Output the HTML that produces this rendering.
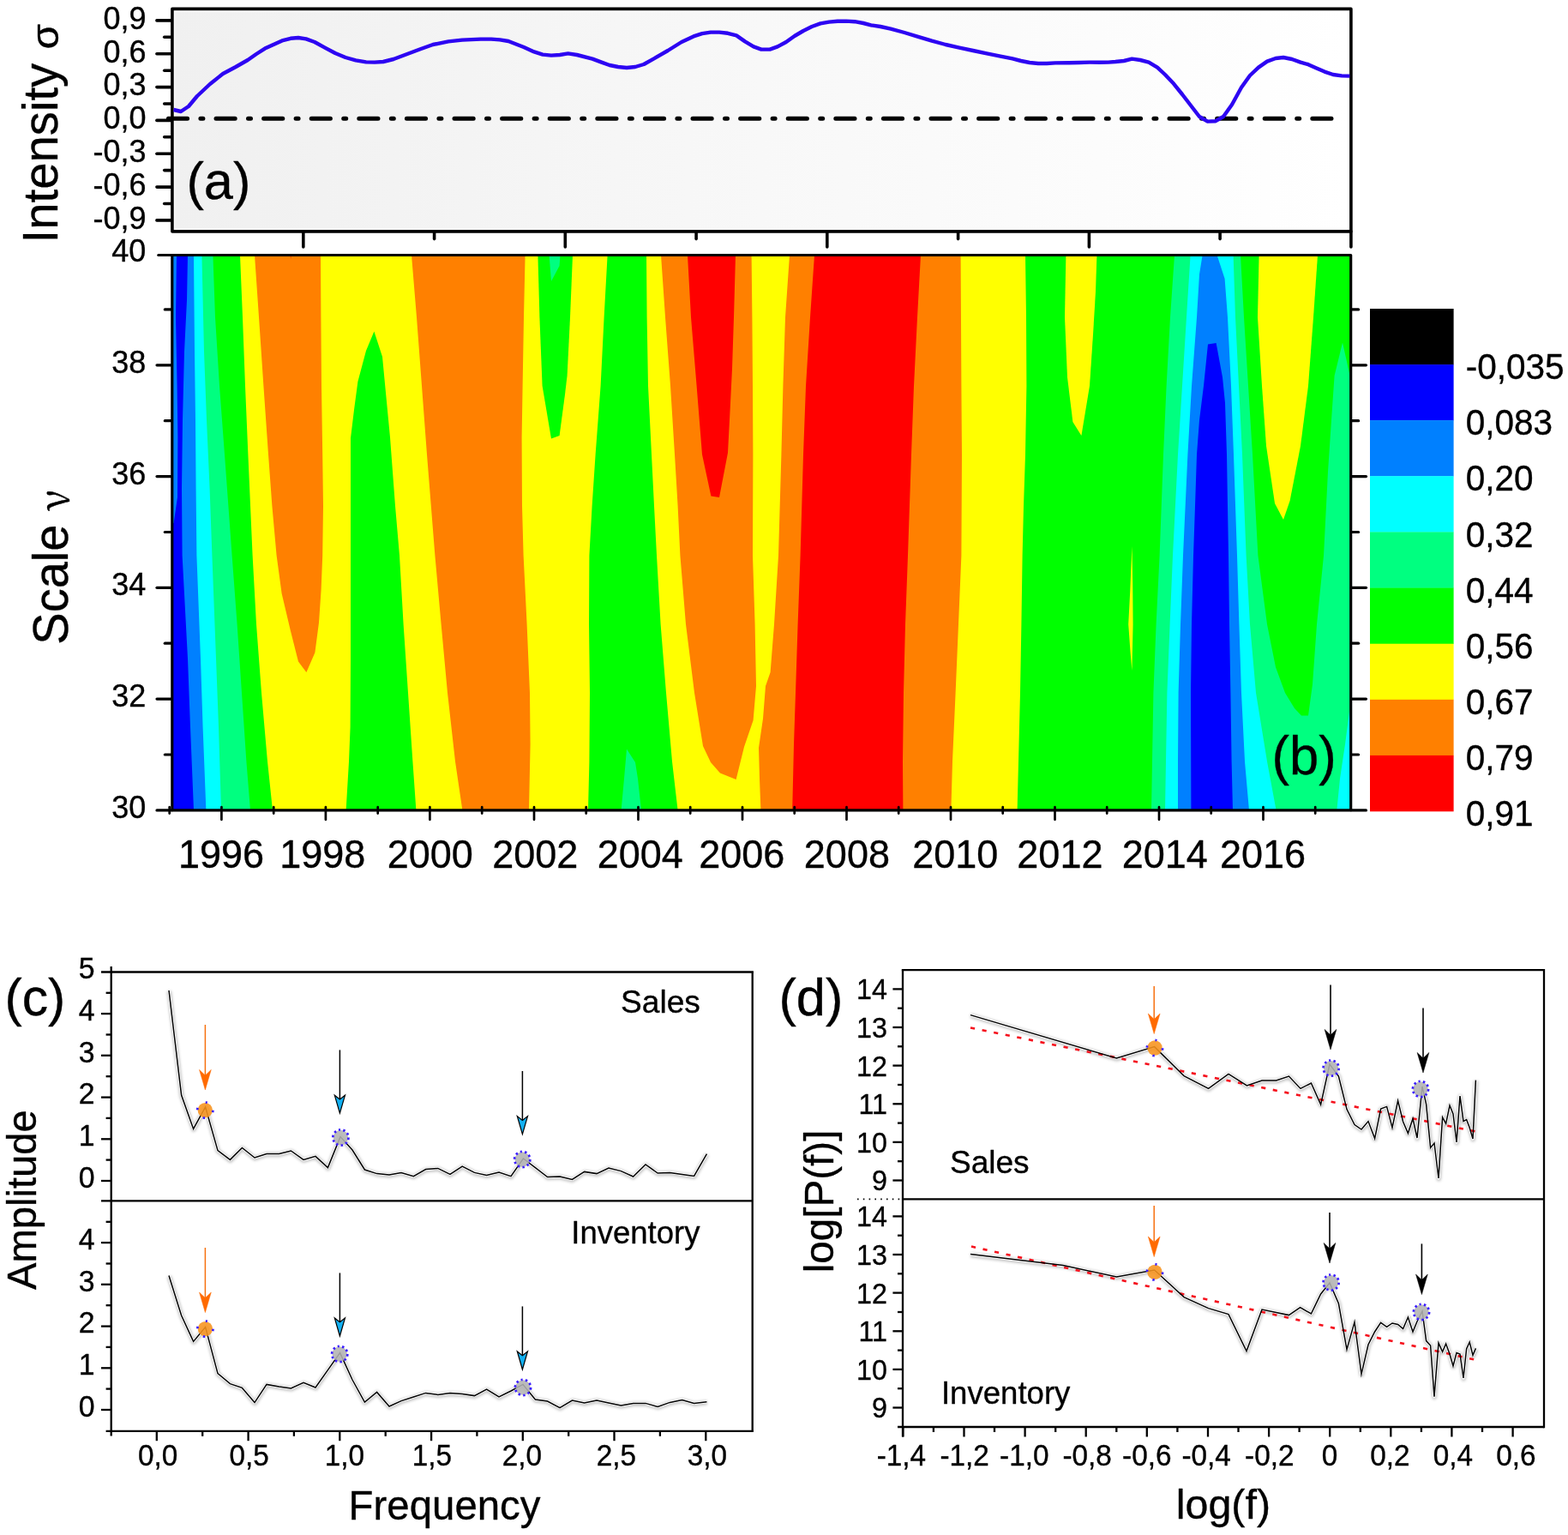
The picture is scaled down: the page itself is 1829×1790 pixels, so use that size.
<!DOCTYPE html>
<html lang="en">
<head>
<meta charset="utf-8">
<title>Wavelet intensity, scale map and spectra</title>
<style>
html,body{margin:0;padding:0;background:#fff;}
body{width:1829px;height:1790px;overflow:hidden;}
svg{display:block;}
text{font-family:'Liberation Sans', sans-serif;}
</style>
</head>
<body>
<svg width="1829" height="1790" viewBox="0 0 1829 1790">
<rect x="0" y="0" width="1829" height="1790" fill="#ffffff"/>
<g id="contour">
<rect x="200.8" y="297.5" width="1374.9" height="647.4" fill="#00ff00"/>
<path d="M280.0,297.5 L283.0,370.0 L286.0,450.0 L289.4,530.0 L294.6,647.8 L299.0,728.0 L305.0,808.0 L312.0,888.0 L318.0,944.9 L1186.6,944.9 L1188.0,888.0 L1190.0,808.0 L1191.4,728.0 L1192.6,647.8 L1194.0,590.0 L1196.0,530.0 L1197.4,450.0 L1197.0,370.0 L1196.0,297.5Z" fill="#ffff00"/>
<path d="M403.6,944.9 L407.0,888.0 L408.6,848.0 L409.0,768.0 L409.0,648.0 L409.0,511.0 L413.0,478.0 L417.4,445.0 L427.0,409.0 L436.4,386.6 L446.0,416.0 L450.0,458.0 L455.0,510.0 L461.0,590.0 L466.0,647.8 L470.6,728.0 L476.0,808.0 L481.4,888.0 L485.4,944.9Z" fill="#00ff00"/>
<path d="M627.4,297.5 L629.4,370.0 L632.6,450.0 L643.0,511.6 L652.6,508.0 L659.0,460.0 L661.6,438.0 L665.0,370.0 L668.0,297.5Z" fill="#00ff00"/>
<path d="M708.6,297.5 L704.6,370.0 L700.6,450.0 L694.6,530.0 L690.6,590.0 L687.4,647.8 L687.0,728.0 L688.0,808.0 L687.4,888.0 L686.0,944.9 L790.6,944.9 L784.0,888.0 L777.0,808.0 L770.6,728.0 L766.0,647.8 L763.0,590.0 L760.0,530.0 L756.0,450.0 L754.6,370.0 L754.0,297.5Z" fill="#00ff00"/>
<path d="M640.6,297.5 L643.0,328.0 L652.6,310.0 L653.4,297.5Z" fill="#00ff80"/>
<path d="M724.6,944.9 L728.0,908.0 L731.0,873.6 L741.0,889.0 L744.0,908.0 L748.0,944.9Z" fill="#00ff80"/>
<path d="M297.0,297.5 L302.0,370.0 L307.4,450.0 L313.0,530.0 L317.4,590.0 L322.6,647.8 L328.6,692.0 L339.0,736.0 L348.0,771.6 L357.4,784.0 L367.4,761.0 L372.0,726.0 L374.6,688.0 L376.2,648.0 L377.0,590.0 L376.2,530.0 L375.0,450.0 L374.4,370.0 L374.0,297.5Z" fill="#ff8000"/>
<path d="M480.0,297.5 L486.0,370.0 L492.0,450.0 L498.0,530.0 L507.4,647.8 L514.6,728.0 L522.0,808.0 L531.0,888.0 L539.4,944.9 L617.0,944.9 L618.6,868.0 L618.0,808.0 L614.6,728.0 L610.6,647.8 L609.0,590.0 L608.6,510.0 L609.6,450.0 L611.0,370.0 L612.6,297.5Z" fill="#ff8000"/>
<path d="M771.0,297.5 L776.0,370.0 L782.0,450.0 L787.0,530.0 L790.6,590.0 L793.4,647.8 L800.0,728.0 L810.0,808.0 L820.0,870.0 L829.0,889.0 L840.0,901.6 L858.6,909.0 L868.0,871.0 L878.6,840.0 L882.0,800.0 L880.6,728.0 L878.0,648.0 L878.4,530.0 L878.0,450.0 L877.4,370.0 L876.6,297.5Z" fill="#ff8000"/>
<path d="M921.0,297.5 L916.0,370.0 L913.4,450.0 L911.4,530.0 L908.0,647.8 L903.0,728.0 L898.6,784.0 L893.0,800.0 L890.0,838.0 L885.0,872.0 L886.0,908.0 L887.4,944.9 L1109.4,944.9 L1111.0,888.0 L1114.6,808.0 L1118.0,728.0 L1121.4,647.8 L1122.0,530.0 L1121.4,450.0 L1120.6,297.5Z" fill="#ff8000"/>
<path d="M802.0,297.5 L806.0,370.0 L812.6,450.0 L819.0,530.0 L829.4,578.4 L839.0,580.0 L849.0,528.0 L851.0,490.0 L854.0,430.0 L856.0,370.0 L858.0,297.5Z" fill="#ff0000"/>
<path d="M950.0,297.5 L945.0,370.0 L940.0,450.0 L937.0,530.0 L933.6,647.8 L930.6,728.0 L928.0,808.0 L926.0,868.0 L924.2,944.9 L1053.4,944.9 L1053.0,888.0 L1054.0,808.0 L1056.0,728.0 L1059.0,647.8 L1063.0,530.0 L1066.0,450.0 L1070.0,370.0 L1074.0,297.5Z" fill="#ff0000"/>
<path d="M1243.4,297.5 L1242.0,370.0 L1245.0,440.0 L1251.4,492.0 L1261.4,508.0 L1271.0,450.0 L1275.0,390.0 L1278.0,340.0 L1279.4,297.5Z" fill="#ffff00"/>
<path d="M1320.4,637.0 L1318.2,690.0 L1316.2,728.0 L1318.5,760.0 L1320.4,782.0 L1321.6,728.0 L1321.2,680.0Z" fill="#ffff00"/>
<path d="M1468.6,297.5 L1467.0,370.0 L1472.0,450.0 L1477.0,520.0 L1487.0,587.0 L1497.0,606.0 L1504.6,584.0 L1517.0,520.0 L1526.0,450.0 L1532.0,370.0 L1537.0,297.5Z" fill="#ffff00"/>
<path d="M338.6,297 l0.5,5 l0.5,-5Z" fill="#ff0000"/>
<path d="M200.8,297.5 L248.4,297.5 L251.0,370.0 L256.0,450.0 L262.0,530.0 L270.6,647.8 L276.6,728.0 L282.0,808.0 L287.4,888.0 L292.0,944.9 L200.8,944.9Z" fill="#00ff80"/>
<path d="M200.8,297.5 L235.4,297.5 L238.0,410.0 L241.0,490.0 L244.6,570.0 L247.4,647.8 L252.0,768.0 L255.0,848.0 L258.0,944.9 L200.8,944.9Z" fill="#00ffff"/>
<path d="M200.8,297.5 L226.0,297.5 L227.0,410.0 L228.0,490.0 L228.6,570.0 L229.4,647.8 L234.0,768.0 L236.6,848.0 L240.4,944.9 L200.8,944.9Z" fill="#0080ff"/>
<path d="M200.8,297.5 L219.0,297.5 L218.0,350.0 L215.0,410.0 L213.0,490.0 L212.0,570.0 L212.6,647.8 L219.0,768.0 L222.0,848.0 L226.0,944.9 L200.8,944.9Z" fill="#0000ff"/>
<path d="M201.0,297.5 L206.0,297.5 L205.0,370.0 L206.6,450.0 L207.4,510.0 L207.0,580.0 L202.6,610.0 L201.0,610.0Z" fill="#0080ff"/>
<path d="M1370.0,297.5 L1365.0,370.0 L1360.6,450.0 L1357.0,530.0 L1352.6,647.8 L1348.6,728.0 L1345.4,808.0 L1344.0,888.0 L1343.0,944.9 L1575.7,944.9 L1575.7,444.0 L1576.0,444.0 L1566.0,399.6 L1556.6,438.0 L1553.0,490.0 L1549.0,550.0 L1544.0,648.0 L1540.0,688.0 L1536.0,728.0 L1531.0,798.0 L1526.0,834.4 L1518.0,834.4 L1510.0,826.0 L1499.0,808.0 L1488.0,778.0 L1478.0,728.0 L1467.4,647.8 L1461.0,530.0 L1456.0,450.0 L1451.0,370.0 L1447.0,297.5Z" fill="#00ff80"/>
<path d="M1388.6,297.5 L1384.0,370.0 L1379.0,450.0 L1374.0,530.0 L1368.0,647.8 L1364.6,728.0 L1361.4,808.0 L1360.0,888.0 L1359.0,944.9 L1488.6,944.9 L1478.0,888.0 L1465.0,808.0 L1458.0,728.0 L1453.6,647.8 L1449.0,530.0 L1445.0,450.0 L1441.0,370.0 L1438.6,297.5Z" fill="#00ffff"/>
<path d="M1576.0,824.0 L1574.0,830.0 L1569.0,868.0 L1563.0,908.0 L1559.4,944.6 L1576.0,944.6Z" fill="#00ffff"/>
<path d="M1402.6,297.5 L1399.0,320.0 L1396.0,370.0 L1390.0,450.0 L1385.4,530.0 L1380.0,647.8 L1377.0,728.0 L1374.6,808.0 L1374.0,888.0 L1374.0,944.9 L1457.0,944.9 L1452.0,888.0 L1448.0,808.0 L1445.4,728.0 L1443.0,647.8 L1439.0,530.0 L1436.0,450.0 L1432.0,370.0 L1428.6,325.0 L1419.6,297.5Z" fill="#0080ff"/>
<path d="M1389.4,944.9 L1389.0,808.0 L1390.0,728.0 L1392.0,648.0 L1394.0,590.0 L1396.0,530.0 L1399.0,490.0 L1404.0,450.0 L1409.0,401.6 L1418.6,400.0 L1426.0,440.0 L1429.0,470.0 L1431.0,530.0 L1432.0,590.0 L1433.0,647.8 L1434.0,728.0 L1435.4,808.0 L1436.6,888.0 L1438.0,944.9Z" fill="#0000ff"/>
</g>
<g id="bframe">
<rect x="200.80" y="297.50" width="1374.90" height="647.35" fill="none" stroke="#000" stroke-width="3.15" stroke-linejoin="round"/>
<line x1="183.0" y1="944.9" x2="200.0" y2="944.9" stroke="#000" stroke-width="3.20" stroke-linecap="round"/>
<line x1="1576.5" y1="944.9" x2="1593.5" y2="944.9" stroke="#000" stroke-width="3.20" stroke-linecap="round"/>
<line x1="192.3" y1="880.0" x2="200.0" y2="880.0" stroke="#000" stroke-width="3.20" stroke-linecap="round"/>
<line x1="1576.5" y1="880.0" x2="1584.6" y2="880.0" stroke="#000" stroke-width="3.20" stroke-linecap="round"/>
<line x1="183.0" y1="815.1" x2="200.0" y2="815.1" stroke="#000" stroke-width="3.20" stroke-linecap="round"/>
<line x1="1576.5" y1="815.1" x2="1593.5" y2="815.1" stroke="#000" stroke-width="3.20" stroke-linecap="round"/>
<line x1="192.3" y1="750.2" x2="200.0" y2="750.2" stroke="#000" stroke-width="3.20" stroke-linecap="round"/>
<line x1="1576.5" y1="750.2" x2="1584.6" y2="750.2" stroke="#000" stroke-width="3.20" stroke-linecap="round"/>
<line x1="183.0" y1="685.3" x2="200.0" y2="685.3" stroke="#000" stroke-width="3.20" stroke-linecap="round"/>
<line x1="1576.5" y1="685.3" x2="1593.5" y2="685.3" stroke="#000" stroke-width="3.20" stroke-linecap="round"/>
<line x1="192.3" y1="620.5" x2="200.0" y2="620.5" stroke="#000" stroke-width="3.20" stroke-linecap="round"/>
<line x1="1576.5" y1="620.5" x2="1584.6" y2="620.5" stroke="#000" stroke-width="3.20" stroke-linecap="round"/>
<line x1="183.0" y1="555.6" x2="200.0" y2="555.6" stroke="#000" stroke-width="3.20" stroke-linecap="round"/>
<line x1="1576.5" y1="555.6" x2="1593.5" y2="555.6" stroke="#000" stroke-width="3.20" stroke-linecap="round"/>
<line x1="192.3" y1="490.7" x2="200.0" y2="490.7" stroke="#000" stroke-width="3.20" stroke-linecap="round"/>
<line x1="1576.5" y1="490.7" x2="1584.6" y2="490.7" stroke="#000" stroke-width="3.20" stroke-linecap="round"/>
<line x1="183.0" y1="425.8" x2="200.0" y2="425.8" stroke="#000" stroke-width="3.20" stroke-linecap="round"/>
<line x1="1576.5" y1="425.8" x2="1593.5" y2="425.8" stroke="#000" stroke-width="3.20" stroke-linecap="round"/>
<line x1="192.3" y1="360.9" x2="200.0" y2="360.9" stroke="#000" stroke-width="3.20" stroke-linecap="round"/>
<line x1="1576.5" y1="360.9" x2="1584.6" y2="360.9" stroke="#000" stroke-width="3.20" stroke-linecap="round"/>
<line x1="184.8" y1="297.5" x2="200.0" y2="297.5" stroke="#000" stroke-width="3.20" stroke-linecap="round"/>
<line x1="197.7" y1="941.2" x2="197.7" y2="948.6" stroke="#000" stroke-width="2.70" stroke-linecap="round"/>
<line x1="258.4" y1="941.2" x2="258.4" y2="955.8" stroke="#000" stroke-width="2.70" stroke-linecap="round"/>
<line x1="319.2" y1="941.2" x2="319.2" y2="948.6" stroke="#000" stroke-width="2.70" stroke-linecap="round"/>
<line x1="379.9" y1="941.2" x2="379.9" y2="955.8" stroke="#000" stroke-width="2.70" stroke-linecap="round"/>
<line x1="440.7" y1="941.2" x2="440.7" y2="948.6" stroke="#000" stroke-width="2.70" stroke-linecap="round"/>
<line x1="501.4" y1="941.2" x2="501.4" y2="955.8" stroke="#000" stroke-width="2.70" stroke-linecap="round"/>
<line x1="562.2" y1="941.2" x2="562.2" y2="948.6" stroke="#000" stroke-width="2.70" stroke-linecap="round"/>
<line x1="623.0" y1="941.2" x2="623.0" y2="955.8" stroke="#000" stroke-width="2.70" stroke-linecap="round"/>
<line x1="683.7" y1="941.2" x2="683.7" y2="948.6" stroke="#000" stroke-width="2.70" stroke-linecap="round"/>
<line x1="744.5" y1="941.2" x2="744.5" y2="955.8" stroke="#000" stroke-width="2.70" stroke-linecap="round"/>
<line x1="805.2" y1="941.2" x2="805.2" y2="948.6" stroke="#000" stroke-width="2.70" stroke-linecap="round"/>
<line x1="866.0" y1="941.2" x2="866.0" y2="955.8" stroke="#000" stroke-width="2.70" stroke-linecap="round"/>
<line x1="926.7" y1="941.2" x2="926.7" y2="948.6" stroke="#000" stroke-width="2.70" stroke-linecap="round"/>
<line x1="987.5" y1="941.2" x2="987.5" y2="955.8" stroke="#000" stroke-width="2.70" stroke-linecap="round"/>
<line x1="1048.2" y1="941.2" x2="1048.2" y2="948.6" stroke="#000" stroke-width="2.70" stroke-linecap="round"/>
<line x1="1109.0" y1="941.2" x2="1109.0" y2="955.8" stroke="#000" stroke-width="2.70" stroke-linecap="round"/>
<line x1="1169.7" y1="941.2" x2="1169.7" y2="948.6" stroke="#000" stroke-width="2.70" stroke-linecap="round"/>
<line x1="1230.5" y1="941.2" x2="1230.5" y2="955.8" stroke="#000" stroke-width="2.70" stroke-linecap="round"/>
<line x1="1291.2" y1="941.2" x2="1291.2" y2="948.6" stroke="#000" stroke-width="2.70" stroke-linecap="round"/>
<line x1="1352.0" y1="941.2" x2="1352.0" y2="955.8" stroke="#000" stroke-width="2.70" stroke-linecap="round"/>
<line x1="1412.7" y1="941.2" x2="1412.7" y2="948.6" stroke="#000" stroke-width="2.70" stroke-linecap="round"/>
<line x1="1473.5" y1="941.2" x2="1473.5" y2="955.8" stroke="#000" stroke-width="2.70" stroke-linecap="round"/>
<line x1="1534.2" y1="941.2" x2="1534.2" y2="948.6" stroke="#000" stroke-width="2.70" stroke-linecap="round"/>
</g>
<g id="blabels" font-family="'Liberation Sans', sans-serif" fill="#000" stroke="#000" stroke-width="0.35" stroke-linejoin="round">
<text transform="translate(170.30 953.85) scale(1 1.040)" font-size="36.00px" text-anchor="end">30</text>
<text transform="translate(170.30 824.09) scale(1 1.040)" font-size="36.00px" text-anchor="end">32</text>
<text transform="translate(170.30 694.33) scale(1 1.040)" font-size="36.00px" text-anchor="end">34</text>
<text transform="translate(170.30 564.57) scale(1 1.040)" font-size="36.00px" text-anchor="end">36</text>
<text transform="translate(170.30 434.81) scale(1 1.040)" font-size="36.00px" text-anchor="end">38</text>
<text transform="translate(170.30 305.40) scale(1 1.040)" font-size="36.00px" text-anchor="end">40</text>
<text transform="translate(207.95 1011.90) scale(1 1.010)" font-size="45.00px" text-anchor="start">1996</text>
<text transform="translate(326.20 1011.90) scale(1 1.010)" font-size="45.00px" text-anchor="start">1998</text>
<text transform="translate(451.80 1011.90) scale(1 1.010)" font-size="45.00px" text-anchor="start">2000</text>
<text transform="translate(574.15 1011.90) scale(1 1.010)" font-size="45.00px" text-anchor="start">2002</text>
<text transform="translate(696.65 1011.90) scale(1 1.010)" font-size="45.00px" text-anchor="start">2004</text>
<text transform="translate(815.15 1011.90) scale(1 1.010)" font-size="45.00px" text-anchor="start">2006</text>
<text transform="translate(937.85 1011.90) scale(1 1.010)" font-size="45.00px" text-anchor="start">2008</text>
<text transform="translate(1064.15 1011.90) scale(1 1.010)" font-size="45.00px" text-anchor="start">2010</text>
<text transform="translate(1186.35 1011.90) scale(1 1.010)" font-size="45.00px" text-anchor="start">2012</text>
<text transform="translate(1308.65 1011.90) scale(1 1.010)" font-size="45.00px" text-anchor="start">2014</text>
<text transform="translate(1423.05 1011.90) scale(1 1.010)" font-size="45.00px" text-anchor="start">2016</text>
<text transform="translate(78.80 751.70) rotate(-90) scale(1 1.010)" font-size="56.00px" text-anchor="start">Scale</text>
<text transform="translate(79.60 595.80) rotate(-90)" font-size="46.00px" text-anchor="start" style="font-family:'Noto Serif CJK SC', 'Liberation Serif', serif" stroke="#000" stroke-width="0.5">ν</text>
<text transform="translate(1483.60 903.20) scale(1 1.010)" font-size="61.50px" text-anchor="start">(b)</text>
</g>
<g id="cbar">
<rect x="1598" y="360.0" width="97.6" height="65.4" fill="#000000"/>
<rect x="1598" y="425.1" width="97.6" height="65.3" fill="#0000ff"/>
<rect x="1598" y="490.1" width="97.6" height="65.4" fill="#0080ff"/>
<rect x="1598" y="555.2" width="97.6" height="65.5" fill="#00ffff"/>
<rect x="1598" y="620.4" width="97.6" height="65.5" fill="#00ff80"/>
<rect x="1598" y="685.6" width="97.6" height="65.4" fill="#00ff00"/>
<rect x="1598" y="750.7" width="97.6" height="65.4" fill="#ffff00"/>
<rect x="1598" y="815.8" width="97.6" height="65.4" fill="#ff8000"/>
<rect x="1598" y="880.9" width="97.6" height="65.4" fill="#ff0000"/>
</g>
<g id="cblabels" font-family="'Liberation Sans', sans-serif" fill="#000" stroke="#000" stroke-width="0.35" stroke-linejoin="round">
<text transform="translate(1709.80 442.30) scale(1 1.040)" font-size="40.50px" text-anchor="start">-0,035</text>
<text transform="translate(1709.80 507.30) scale(1 1.040)" font-size="40.50px" text-anchor="start">0,083</text>
<text transform="translate(1709.80 572.40) scale(1 1.040)" font-size="40.50px" text-anchor="start">0,20</text>
<text transform="translate(1709.80 637.60) scale(1 1.040)" font-size="40.50px" text-anchor="start">0,32</text>
<text transform="translate(1709.80 702.80) scale(1 1.040)" font-size="40.50px" text-anchor="start">0,44</text>
<text transform="translate(1709.80 767.90) scale(1 1.040)" font-size="40.50px" text-anchor="start">0,56</text>
<text transform="translate(1709.80 833.00) scale(1 1.040)" font-size="40.50px" text-anchor="start">0,67</text>
<text transform="translate(1709.80 898.10) scale(1 1.040)" font-size="40.50px" text-anchor="start">0,79</text>
<text transform="translate(1709.80 963.20) scale(1 1.040)" font-size="40.50px" text-anchor="start">0,91</text>
</g>
<defs><linearGradient id="ga" x1="0" y1="0" x2="1" y2="0"><stop offset="0" stop-color="#f0f0f0"/><stop offset="0.5" stop-color="#f8f8f8"/><stop offset="1" stop-color="#ffffff"/></linearGradient></defs>
<g id="pa">
<rect x="204.0" y="14.1" width="1369.0" height="252.5" fill="url(#ga)"/>
<rect x="200.9" y="10.4" width="1375.0" height="259.5" fill="none" stroke="#000" stroke-width="3.6" stroke-linejoin="round"/>
<line x1="182.9" y1="256.9" x2="200.0" y2="256.9" stroke="#000" stroke-width="3.60" stroke-linecap="round"/>
<line x1="191.7" y1="237.5" x2="200.0" y2="237.5" stroke="#000" stroke-width="3.60" stroke-linecap="round"/>
<line x1="182.9" y1="218.1" x2="200.0" y2="218.1" stroke="#000" stroke-width="3.60" stroke-linecap="round"/>
<line x1="191.7" y1="198.6" x2="200.0" y2="198.6" stroke="#000" stroke-width="3.60" stroke-linecap="round"/>
<line x1="182.9" y1="179.2" x2="200.0" y2="179.2" stroke="#000" stroke-width="3.60" stroke-linecap="round"/>
<line x1="191.7" y1="159.8" x2="200.0" y2="159.8" stroke="#000" stroke-width="3.60" stroke-linecap="round"/>
<line x1="182.9" y1="140.4" x2="200.0" y2="140.4" stroke="#000" stroke-width="3.60" stroke-linecap="round"/>
<line x1="191.7" y1="121.0" x2="200.0" y2="121.0" stroke="#000" stroke-width="3.60" stroke-linecap="round"/>
<line x1="182.9" y1="101.6" x2="200.0" y2="101.6" stroke="#000" stroke-width="3.60" stroke-linecap="round"/>
<line x1="191.7" y1="82.2" x2="200.0" y2="82.2" stroke="#000" stroke-width="3.60" stroke-linecap="round"/>
<line x1="182.9" y1="62.7" x2="200.0" y2="62.7" stroke="#000" stroke-width="3.60" stroke-linecap="round"/>
<line x1="191.7" y1="43.3" x2="200.0" y2="43.3" stroke="#000" stroke-width="3.60" stroke-linecap="round"/>
<line x1="182.9" y1="23.9" x2="200.0" y2="23.9" stroke="#000" stroke-width="3.60" stroke-linecap="round"/>
<line x1="353.8" y1="269.9" x2="353.8" y2="287.9" stroke="#000" stroke-width="3.60" stroke-linecap="round"/>
<line x1="506.6" y1="269.9" x2="506.6" y2="278.6" stroke="#000" stroke-width="3.60" stroke-linecap="round"/>
<line x1="659.3" y1="269.9" x2="659.3" y2="287.9" stroke="#000" stroke-width="3.60" stroke-linecap="round"/>
<line x1="812.1" y1="269.9" x2="812.1" y2="278.6" stroke="#000" stroke-width="3.60" stroke-linecap="round"/>
<line x1="964.8" y1="269.9" x2="964.8" y2="287.9" stroke="#000" stroke-width="3.60" stroke-linecap="round"/>
<line x1="1117.6" y1="269.9" x2="1117.6" y2="278.6" stroke="#000" stroke-width="3.60" stroke-linecap="round"/>
<line x1="1270.4" y1="269.9" x2="1270.4" y2="287.9" stroke="#000" stroke-width="3.60" stroke-linecap="round"/>
<line x1="1423.1" y1="269.9" x2="1423.1" y2="278.6" stroke="#000" stroke-width="3.60" stroke-linecap="round"/>
<line x1="1575.9" y1="269.9" x2="1575.9" y2="287.9" stroke="#000" stroke-width="3.60" stroke-linecap="round"/>
<path d="M196.4,138.2 H1553.5" fill="none" stroke="#000" stroke-width="5" stroke-linecap="round" stroke-dasharray="22.2 15.3 3 15.1"/>
<path d="M202.6,128.0 L211.0,130.0 L220.0,124.0 L230.0,112.0 L245.0,98.0 L260.0,86.0 L275.0,78.0 L289.0,70.0 L299.0,63.0 L309.0,56.6 L319.0,52.0 L329.0,47.4 L339.0,44.8 L348.0,44.0 L357.0,45.4 L367.0,49.0 L379.0,55.6 L391.0,62.0 L403.0,67.0 L415.0,70.4 L427.0,72.4 L437.0,72.6 L447.0,72.0 L459.0,69.0 L475.0,63.0 L491.0,57.0 L505.0,52.0 L523.0,48.4 L539.0,46.6 L560.8,45.6 L573.0,45.6 L583.0,46.4 L593.0,48.0 L611.0,55.0 L623.0,60.4 L633.0,63.6 L643.0,64.6 L653.0,64.0 L662.6,62.4 L673.0,64.0 L691.0,68.6 L701.0,72.4 L711.0,76.0 L721.0,78.0 L731.0,79.0 L741.0,78.0 L751.0,75.0 L761.0,69.4 L779.0,59.0 L795.0,49.0 L809.0,42.4 L819.0,39.2 L829.0,37.6 L839.0,37.6 L849.0,38.8 L859.0,41.4 L869.0,48.4 L879.0,54.4 L888.0,57.6 L898.0,57.6 L907.0,54.4 L917.0,49.0 L926.8,42.0 L937.0,36.0 L947.0,31.0 L957.0,27.4 L967.0,25.6 L977.0,24.8 L987.0,24.6 L997.0,25.2 L1007.0,27.0 L1016.0,29.4 L1027.0,31.0 L1039.0,33.6 L1055.0,38.0 L1071.0,42.8 L1087.0,47.6 L1103.0,52.0 L1119.0,55.6 L1135.0,59.0 L1151.0,62.4 L1167.0,65.6 L1181.0,68.4 L1191.0,71.0 L1201.0,73.0 L1211.0,74.0 L1221.0,74.0 L1231.0,73.4 L1247.0,73.2 L1259.0,73.0 L1271.0,72.6 L1283.0,72.8 L1292.8,72.6 L1301.0,72.0 L1311.0,71.0 L1320.4,68.6 L1330.0,70.0 L1340.0,72.6 L1350.0,78.6 L1359.0,87.0 L1369.0,97.6 L1379.0,110.0 L1389.0,123.0 L1399.0,136.0 L1408.6,141.6 L1418.0,141.2 L1427.0,136.0 L1437.0,122.0 L1448.0,102.0 L1458.0,88.0 L1468.0,78.6 L1478.0,71.6 L1488.0,68.0 L1497.0,67.0 L1507.0,69.0 L1517.0,72.6 L1526.0,75.2 L1535.0,79.2 L1545.0,83.6 L1555.0,87.0 L1565.0,88.4 L1574.4,88.6" fill="none" stroke="#2d05f2" stroke-width="4.4" stroke-linejoin="round" stroke-linecap="butt"/>
</g>
<g id="alabels" font-family="'Liberation Sans', sans-serif" fill="#000" stroke="#000" stroke-width="0.35" stroke-linejoin="round">
<text transform="translate(170.60 33.81) scale(1 1.040)" font-size="36.00px" text-anchor="end">0,9</text>
<text transform="translate(170.60 72.64) scale(1 1.040)" font-size="36.00px" text-anchor="end">0,6</text>
<text transform="translate(170.60 111.47) scale(1 1.040)" font-size="36.00px" text-anchor="end">0,3</text>
<text transform="translate(170.60 150.30) scale(1 1.040)" font-size="36.00px" text-anchor="end">0,0</text>
<text transform="translate(170.60 189.13) scale(1 1.040)" font-size="36.00px" text-anchor="end">-0,3</text>
<text transform="translate(170.60 227.96) scale(1 1.040)" font-size="36.00px" text-anchor="end">-0,6</text>
<text transform="translate(170.60 266.79) scale(1 1.040)" font-size="36.00px" text-anchor="end">-0,9</text>
<text transform="translate(67.00 283.40) rotate(-90) scale(1 1.010)" font-size="56.30px" text-anchor="start">Intensity</text>
<text transform="translate(67.70 57.40) rotate(-90)" font-size="44.00px" text-anchor="start" style="font-family:'Liberation Sans', sans-serif" stroke="#000" stroke-width="0.3" textLength="29.5" lengthAdjust="spacingAndGlyphs">σ</text>
<text transform="translate(217.40 232.30) scale(1 1.010)" font-size="61.30px" text-anchor="start">(a)</text>
</g>
<defs><filter id="sh" x="-5%" y="-20%" width="110%" height="140%"><feGaussianBlur stdDeviation="1.8"/></filter></defs>
<g id="pc">
<line x1="129.7" y1="1127.0" x2="129.7" y2="1674.5" stroke="#000" stroke-width="2.30" stroke-linecap="butt"/>
<line x1="877.7" y1="1133.5" x2="877.7" y2="1668.8" stroke="#000" stroke-width="2.30" stroke-linecap="butt"/>
<line x1="118.0" y1="1133.5" x2="878.9" y2="1133.5" stroke="#000" stroke-width="2.30" stroke-linecap="butt"/>
<line x1="118.0" y1="1400.4" x2="877.7" y2="1400.4" stroke="#000" stroke-width="2.30" stroke-linecap="butt"/>
<line x1="123.6" y1="1668.8" x2="878.9" y2="1668.8" stroke="#000" stroke-width="2.30" stroke-linecap="butt"/>
<line x1="118.0" y1="1377.0" x2="129.7" y2="1377.0" stroke="#000" stroke-width="2.30" stroke-linecap="butt"/>
<line x1="123.6" y1="1352.6" x2="129.7" y2="1352.6" stroke="#000" stroke-width="2.30" stroke-linecap="butt"/>
<line x1="118.0" y1="1328.3" x2="129.7" y2="1328.3" stroke="#000" stroke-width="2.30" stroke-linecap="butt"/>
<line x1="123.6" y1="1303.9" x2="129.7" y2="1303.9" stroke="#000" stroke-width="2.30" stroke-linecap="butt"/>
<line x1="118.0" y1="1279.6" x2="129.7" y2="1279.6" stroke="#000" stroke-width="2.30" stroke-linecap="butt"/>
<line x1="123.6" y1="1255.2" x2="129.7" y2="1255.2" stroke="#000" stroke-width="2.30" stroke-linecap="butt"/>
<line x1="118.0" y1="1230.8" x2="129.7" y2="1230.8" stroke="#000" stroke-width="2.30" stroke-linecap="butt"/>
<line x1="123.6" y1="1206.5" x2="129.7" y2="1206.5" stroke="#000" stroke-width="2.30" stroke-linecap="butt"/>
<line x1="118.0" y1="1182.1" x2="129.7" y2="1182.1" stroke="#000" stroke-width="2.30" stroke-linecap="butt"/>
<line x1="123.6" y1="1157.8" x2="129.7" y2="1157.8" stroke="#000" stroke-width="2.30" stroke-linecap="butt"/>
<line x1="118.0" y1="1644.0" x2="129.7" y2="1644.0" stroke="#000" stroke-width="2.30" stroke-linecap="butt"/>
<line x1="123.6" y1="1619.6" x2="129.7" y2="1619.6" stroke="#000" stroke-width="2.30" stroke-linecap="butt"/>
<line x1="118.0" y1="1595.3" x2="129.7" y2="1595.3" stroke="#000" stroke-width="2.30" stroke-linecap="butt"/>
<line x1="123.6" y1="1570.9" x2="129.7" y2="1570.9" stroke="#000" stroke-width="2.30" stroke-linecap="butt"/>
<line x1="118.0" y1="1546.6" x2="129.7" y2="1546.6" stroke="#000" stroke-width="2.30" stroke-linecap="butt"/>
<line x1="123.6" y1="1522.2" x2="129.7" y2="1522.2" stroke="#000" stroke-width="2.30" stroke-linecap="butt"/>
<line x1="118.0" y1="1497.8" x2="129.7" y2="1497.8" stroke="#000" stroke-width="2.30" stroke-linecap="butt"/>
<line x1="123.6" y1="1473.5" x2="129.7" y2="1473.5" stroke="#000" stroke-width="2.30" stroke-linecap="butt"/>
<line x1="118.0" y1="1449.1" x2="129.7" y2="1449.1" stroke="#000" stroke-width="2.30" stroke-linecap="butt"/>
<line x1="123.6" y1="1424.8" x2="129.7" y2="1424.8" stroke="#000" stroke-width="2.30" stroke-linecap="butt"/>
<line x1="182.8" y1="1668.8" x2="182.8" y2="1680.2" stroke="#000" stroke-width="2.30" stroke-linecap="butt"/>
<line x1="236.2" y1="1668.8" x2="236.2" y2="1674.8" stroke="#000" stroke-width="2.30" stroke-linecap="butt"/>
<line x1="289.6" y1="1668.8" x2="289.6" y2="1680.2" stroke="#000" stroke-width="2.30" stroke-linecap="butt"/>
<line x1="342.9" y1="1668.8" x2="342.9" y2="1674.8" stroke="#000" stroke-width="2.30" stroke-linecap="butt"/>
<line x1="396.3" y1="1668.8" x2="396.3" y2="1680.2" stroke="#000" stroke-width="2.30" stroke-linecap="butt"/>
<line x1="449.7" y1="1668.8" x2="449.7" y2="1674.8" stroke="#000" stroke-width="2.30" stroke-linecap="butt"/>
<line x1="503.1" y1="1668.8" x2="503.1" y2="1680.2" stroke="#000" stroke-width="2.30" stroke-linecap="butt"/>
<line x1="556.4" y1="1668.8" x2="556.4" y2="1674.8" stroke="#000" stroke-width="2.30" stroke-linecap="butt"/>
<line x1="609.8" y1="1668.8" x2="609.8" y2="1680.2" stroke="#000" stroke-width="2.30" stroke-linecap="butt"/>
<line x1="663.2" y1="1668.8" x2="663.2" y2="1674.8" stroke="#000" stroke-width="2.30" stroke-linecap="butt"/>
<line x1="716.5" y1="1668.8" x2="716.5" y2="1680.2" stroke="#000" stroke-width="2.30" stroke-linecap="butt"/>
<line x1="769.9" y1="1668.8" x2="769.9" y2="1674.8" stroke="#000" stroke-width="2.30" stroke-linecap="butt"/>
<line x1="823.3" y1="1668.8" x2="823.3" y2="1680.2" stroke="#000" stroke-width="2.30" stroke-linecap="butt"/>
<path d="M197.0,1155.0 L211.6,1277.0 L225.6,1316.4 L239.6,1291.0 L254.0,1341.6 L268.4,1352.4 L282.4,1338.4 L297.0,1350.0 L311.0,1345.6 L325.6,1345.6 L339.4,1342.0 L354.0,1352.4 L368.0,1348.4 L382.4,1361.6 L397.0,1325.6 L411.0,1341.0 L425.4,1364.0 L439.6,1368.6 L454.0,1370.0 L468.0,1367.6 L482.4,1371.6 L496.6,1363.6 L510.8,1362.4 L525.0,1369.4 L539.2,1360.0 L553.4,1367.4 L567.6,1370.4 L582.0,1367.0 L596.0,1371.6 L610.4,1351.0 L624.4,1361.6 L638.6,1372.6 L653.0,1372.0 L667.4,1375.4 L681.6,1366.4 L696.0,1368.6 L710.0,1362.0 L724.4,1365.6 L738.6,1372.0 L753.0,1358.0 L767.2,1368.0 L781.4,1367.4 L795.6,1369.4 L809.6,1371.4 L824.4,1345.6" fill="none" stroke="#000" stroke-opacity="0.22" stroke-width="5.5" stroke-linejoin="round" filter="url(#sh)" transform="translate(0.3,0.8)"/>
<path d="M197.0,1155.0 L211.6,1277.0 L225.6,1316.4 L239.6,1291.0 L254.0,1341.6 L268.4,1352.4 L282.4,1338.4 L297.0,1350.0 L311.0,1345.6 L325.6,1345.6 L339.4,1342.0 L354.0,1352.4 L368.0,1348.4 L382.4,1361.6 L397.0,1325.6 L411.0,1341.0 L425.4,1364.0 L439.6,1368.6 L454.0,1370.0 L468.0,1367.6 L482.4,1371.6 L496.6,1363.6 L510.8,1362.4 L525.0,1369.4 L539.2,1360.0 L553.4,1367.4 L567.6,1370.4 L582.0,1367.0 L596.0,1371.6 L610.4,1351.0 L624.4,1361.6 L638.6,1372.6 L653.0,1372.0 L667.4,1375.4 L681.6,1366.4 L696.0,1368.6 L710.0,1362.0 L724.4,1365.6 L738.6,1372.0 L753.0,1358.0 L767.2,1368.0 L781.4,1367.4 L795.6,1369.4 L809.6,1371.4 L824.4,1345.6" fill="none" stroke="#fff" stroke-width="3.2" stroke-linejoin="round"/>
<path d="M197.0,1155.0 L211.6,1277.0 L225.6,1316.4 L239.6,1291.0 L254.0,1341.6 L268.4,1352.4 L282.4,1338.4 L297.0,1350.0 L311.0,1345.6 L325.6,1345.6 L339.4,1342.0 L354.0,1352.4 L368.0,1348.4 L382.4,1361.6 L397.0,1325.6 L411.0,1341.0 L425.4,1364.0 L439.6,1368.6 L454.0,1370.0 L468.0,1367.6 L482.4,1371.6 L496.6,1363.6 L510.8,1362.4 L525.0,1369.4 L539.2,1360.0 L553.4,1367.4 L567.6,1370.4 L582.0,1367.0 L596.0,1371.6 L610.4,1351.0 L624.4,1361.6 L638.6,1372.6 L653.0,1372.0 L667.4,1375.4 L681.6,1366.4 L696.0,1368.6 L710.0,1362.0 L724.4,1365.6 L738.6,1372.0 L753.0,1358.0 L767.2,1368.0 L781.4,1367.4 L795.6,1369.4 L809.6,1371.4 L824.4,1345.6" fill="none" stroke="#000" stroke-width="1.50" stroke-linejoin="miter" stroke-miterlimit="6"/>
<path d="M197.0,1487.6 L211.6,1534.0 L225.6,1564.4 L239.6,1547.6 L254.0,1601.6 L268.4,1613.6 L282.4,1618.4 L297.0,1635.6 L311.0,1614.4 L325.6,1617.0 L339.4,1619.0 L354.0,1612.4 L368.0,1618.0 L382.4,1597.6 L396.6,1577.6 L411.0,1609.0 L425.4,1635.0 L439.6,1623.4 L454.0,1640.0 L468.0,1633.6 L482.4,1629.0 L496.6,1624.4 L510.8,1626.4 L525.0,1624.6 L539.2,1625.4 L553.4,1627.6 L567.6,1620.0 L582.0,1629.0 L596.0,1622.0 L610.0,1614.4 L624.4,1632.0 L638.6,1634.0 L653.0,1641.6 L667.4,1633.0 L681.6,1636.0 L696.0,1633.0 L710.0,1636.0 L724.4,1639.0 L738.6,1636.4 L753.0,1636.4 L767.2,1640.4 L781.4,1635.4 L795.6,1632.6 L809.6,1636.4 L824.4,1634.8" fill="none" stroke="#000" stroke-opacity="0.22" stroke-width="5.5" stroke-linejoin="round" filter="url(#sh)" transform="translate(0.3,0.8)"/>
<path d="M197.0,1487.6 L211.6,1534.0 L225.6,1564.4 L239.6,1547.6 L254.0,1601.6 L268.4,1613.6 L282.4,1618.4 L297.0,1635.6 L311.0,1614.4 L325.6,1617.0 L339.4,1619.0 L354.0,1612.4 L368.0,1618.0 L382.4,1597.6 L396.6,1577.6 L411.0,1609.0 L425.4,1635.0 L439.6,1623.4 L454.0,1640.0 L468.0,1633.6 L482.4,1629.0 L496.6,1624.4 L510.8,1626.4 L525.0,1624.6 L539.2,1625.4 L553.4,1627.6 L567.6,1620.0 L582.0,1629.0 L596.0,1622.0 L610.0,1614.4 L624.4,1632.0 L638.6,1634.0 L653.0,1641.6 L667.4,1633.0 L681.6,1636.0 L696.0,1633.0 L710.0,1636.0 L724.4,1639.0 L738.6,1636.4 L753.0,1636.4 L767.2,1640.4 L781.4,1635.4 L795.6,1632.6 L809.6,1636.4 L824.4,1634.8" fill="none" stroke="#fff" stroke-width="3.2" stroke-linejoin="round"/>
<path d="M197.0,1487.6 L211.6,1534.0 L225.6,1564.4 L239.6,1547.6 L254.0,1601.6 L268.4,1613.6 L282.4,1618.4 L297.0,1635.6 L311.0,1614.4 L325.6,1617.0 L339.4,1619.0 L354.0,1612.4 L368.0,1618.0 L382.4,1597.6 L396.6,1577.6 L411.0,1609.0 L425.4,1635.0 L439.6,1623.4 L454.0,1640.0 L468.0,1633.6 L482.4,1629.0 L496.6,1624.4 L510.8,1626.4 L525.0,1624.6 L539.2,1625.4 L553.4,1627.6 L567.6,1620.0 L582.0,1629.0 L596.0,1622.0 L610.0,1614.4 L624.4,1632.0 L638.6,1634.0 L653.0,1641.6 L667.4,1633.0 L681.6,1636.0 L696.0,1633.0 L710.0,1636.0 L724.4,1639.0 L738.6,1636.4 L753.0,1636.4 L767.2,1640.4 L781.4,1635.4 L795.6,1632.6 L809.6,1636.4 L824.4,1634.8" fill="none" stroke="#000" stroke-width="1.50" stroke-linejoin="miter" stroke-miterlimit="6"/>
<circle cx="239.3" cy="1294.6" r="8.7" fill="#f7931e" fill-opacity="0.88"/>
<circle cx="239.3" cy="1294.6" r="9.1" fill="none" stroke="#3a1cff" stroke-width="2.7" stroke-dasharray="2.500 11.794" stroke-dashoffset="1.25" transform="rotate(-82 239.3 1294.6)"/>
<circle cx="397.4" cy="1326.5" r="8.7" fill="#b3b3b3" fill-opacity="0.88"/>
<circle cx="397.4" cy="1326.5" r="9.1" fill="none" stroke="#3a1cff" stroke-width="2.7" stroke-dasharray="2.500 3.218" stroke-dashoffset="1.25" transform="rotate(-100 397.4 1326.5)"/>
<circle cx="609.2" cy="1352.0" r="8.7" fill="#b3b3b3" fill-opacity="0.88"/>
<circle cx="609.2" cy="1352.0" r="9.1" fill="none" stroke="#3a1cff" stroke-width="2.7" stroke-dasharray="2.500 3.218" stroke-dashoffset="1.25" transform="rotate(-100 609.2 1352.0)"/>
<circle cx="239.4" cy="1549.6" r="8.7" fill="#f7931e" fill-opacity="0.88"/>
<circle cx="239.4" cy="1549.6" r="9.1" fill="none" stroke="#3a1cff" stroke-width="2.7" stroke-dasharray="2.500 11.794" stroke-dashoffset="1.25" transform="rotate(-82 239.4 1549.6)"/>
<circle cx="396.2" cy="1579.0" r="8.7" fill="#b3b3b3" fill-opacity="0.88"/>
<circle cx="396.2" cy="1579.0" r="9.1" fill="none" stroke="#3a1cff" stroke-width="2.7" stroke-dasharray="2.500 3.218" stroke-dashoffset="1.25" transform="rotate(-100 396.2 1579.0)"/>
<circle cx="610.0" cy="1618.0" r="8.7" fill="#b3b3b3" fill-opacity="0.88"/>
<circle cx="610.0" cy="1618.0" r="9.1" fill="none" stroke="#3a1cff" stroke-width="2.7" stroke-dasharray="2.500 3.218" stroke-dashoffset="1.25" transform="rotate(-100 610.0 1618.0)"/>
<line x1="239.4" y1="1195.0" x2="239.4" y2="1254.0" stroke="#f7700f" stroke-width="1.50" stroke-linecap="butt"/>
<path d="M239.4,1271.0 L232.5,1247.4 L239.4,1254.0 L246.3,1247.4 Z" fill="#ff6a00" stroke="#ff6a00" stroke-width="0.5" stroke-linejoin="miter"/>
<line x1="396.4" y1="1224.4" x2="396.4" y2="1282.0" stroke="#000" stroke-width="1.50" stroke-linecap="butt"/>
<path d="M396.4,1298.2 L390.3,1277.2 L396.4,1282.0 L402.5,1277.2 Z" fill="#12b0f2" stroke="#000" stroke-width="1.2" stroke-linejoin="miter" stroke-miterlimit="8"/>
<line x1="609.4" y1="1249.0" x2="609.4" y2="1306.4" stroke="#000" stroke-width="1.50" stroke-linecap="butt"/>
<path d="M609.4,1322.6 L603.3,1301.6 L609.4,1306.4 L615.5,1301.6 Z" fill="#12b0f2" stroke="#000" stroke-width="1.2" stroke-linejoin="miter" stroke-miterlimit="8"/>
<line x1="239.4" y1="1455.0" x2="239.4" y2="1513.6" stroke="#f7700f" stroke-width="1.50" stroke-linecap="butt"/>
<path d="M239.4,1530.6 L232.5,1507.0 L239.4,1513.6 L246.3,1507.0 Z" fill="#ff6a00" stroke="#ff6a00" stroke-width="0.5" stroke-linejoin="miter"/>
<line x1="396.4" y1="1484.4" x2="396.4" y2="1541.8" stroke="#000" stroke-width="1.50" stroke-linecap="butt"/>
<path d="M396.4,1558.0 L390.3,1537.0 L396.4,1541.8 L402.5,1537.0 Z" fill="#12b0f2" stroke="#000" stroke-width="1.2" stroke-linejoin="miter" stroke-miterlimit="8"/>
<line x1="609.4" y1="1523.4" x2="609.4" y2="1580.8" stroke="#000" stroke-width="1.50" stroke-linecap="butt"/>
<path d="M609.4,1597.0 L603.3,1576.0 L609.4,1580.8 L615.5,1576.0 Z" fill="#12b0f2" stroke="#000" stroke-width="1.2" stroke-linejoin="miter" stroke-miterlimit="8"/>
</g>
<g id="clabels" font-family="'Liberation Sans', sans-serif" fill="#000" stroke="#000" stroke-width="0.35" stroke-linejoin="round">
<text transform="translate(110.50 1384.90) scale(1 1.020)" font-size="33.80px" text-anchor="end">0</text>
<text transform="translate(110.50 1336.18) scale(1 1.020)" font-size="33.80px" text-anchor="end">1</text>
<text transform="translate(110.50 1287.46) scale(1 1.020)" font-size="33.80px" text-anchor="end">2</text>
<text transform="translate(110.50 1238.74) scale(1 1.020)" font-size="33.80px" text-anchor="end">3</text>
<text transform="translate(110.50 1190.02) scale(1 1.020)" font-size="33.80px" text-anchor="end">4</text>
<text transform="translate(110.50 1141.30) scale(1 1.020)" font-size="33.80px" text-anchor="end">5</text>
<text transform="translate(110.50 1651.90) scale(1 1.020)" font-size="33.80px" text-anchor="end">0</text>
<text transform="translate(110.50 1603.18) scale(1 1.020)" font-size="33.80px" text-anchor="end">1</text>
<text transform="translate(110.50 1554.46) scale(1 1.020)" font-size="33.80px" text-anchor="end">2</text>
<text transform="translate(110.50 1505.74) scale(1 1.020)" font-size="33.80px" text-anchor="end">3</text>
<text transform="translate(110.50 1457.02) scale(1 1.020)" font-size="33.80px" text-anchor="end">4</text>
<text transform="translate(161.00 1709.10) scale(1 1.040)" font-size="33.30px" text-anchor="start">0,0</text>
<text transform="translate(267.60 1709.10) scale(1 1.040)" font-size="33.30px" text-anchor="start">0,5</text>
<text transform="translate(378.70 1709.10) scale(1 1.040)" font-size="33.30px" text-anchor="start">1,0</text>
<text transform="translate(480.70 1709.10) scale(1 1.040)" font-size="33.30px" text-anchor="start">1,5</text>
<text transform="translate(585.80 1709.10) scale(1 1.040)" font-size="33.30px" text-anchor="start">2,0</text>
<text transform="translate(695.70 1709.10) scale(1 1.040)" font-size="33.30px" text-anchor="start">2,5</text>
<text transform="translate(801.65 1709.10) scale(1 1.040)" font-size="33.30px" text-anchor="start">3,0</text>
<text transform="translate(724.10 1181.20) scale(1 1.010)" font-size="37.10px" text-anchor="start">Sales</text>
<text transform="translate(666.30 1450.00) scale(1 1.010)" font-size="36.50px" text-anchor="start">Inventory</text>
<text transform="translate(406.60 1772.20) scale(1 1.010)" font-size="47.40px" text-anchor="start">Frequency</text>
<text transform="translate(41.80 1504.00) rotate(-90) scale(1 1.010)" font-size="47.20px" text-anchor="start">Amplitude</text>
<text transform="translate(5.40 1183.50) scale(1 1.010)" font-size="60.80px" text-anchor="start">(c)</text>
</g>
<g id="pd">
<line x1="1053.0" y1="1131.2" x2="1053.0" y2="1675.5" stroke="#000" stroke-width="2.30" stroke-linecap="butt"/>
<line x1="1801.0" y1="1130.0" x2="1801.0" y2="1665.2" stroke="#000" stroke-width="2.30" stroke-linecap="butt"/>
<line x1="1051.8" y1="1131.2" x2="1801.0" y2="1131.2" stroke="#000" stroke-width="2.30" stroke-linecap="butt"/>
<line x1="1053.0" y1="1398.4" x2="1801.0" y2="1398.4" stroke="#000" stroke-width="2.30" stroke-linecap="butt"/>
<line x1="1000.0" y1="1398.4" x2="1053.0" y2="1398.4" stroke="#000" stroke-width="1.60" stroke-linecap="butt" stroke-dasharray="1.6 5.2"/>
<line x1="1047.0" y1="1664.0" x2="1801.0" y2="1664.0" stroke="#000" stroke-width="2.30" stroke-linecap="butt"/>
<line x1="1041.4" y1="1376.5" x2="1053.0" y2="1376.5" stroke="#000" stroke-width="2.30" stroke-linecap="butt"/>
<line x1="1041.4" y1="1641.5" x2="1053.0" y2="1641.5" stroke="#000" stroke-width="2.30" stroke-linecap="butt"/>
<line x1="1047.0" y1="1354.2" x2="1053.0" y2="1354.2" stroke="#000" stroke-width="2.30" stroke-linecap="butt"/>
<line x1="1047.0" y1="1619.2" x2="1053.0" y2="1619.2" stroke="#000" stroke-width="2.30" stroke-linecap="butt"/>
<line x1="1041.4" y1="1331.9" x2="1053.0" y2="1331.9" stroke="#000" stroke-width="2.30" stroke-linecap="butt"/>
<line x1="1041.4" y1="1596.9" x2="1053.0" y2="1596.9" stroke="#000" stroke-width="2.30" stroke-linecap="butt"/>
<line x1="1047.0" y1="1309.6" x2="1053.0" y2="1309.6" stroke="#000" stroke-width="2.30" stroke-linecap="butt"/>
<line x1="1047.0" y1="1574.6" x2="1053.0" y2="1574.6" stroke="#000" stroke-width="2.30" stroke-linecap="butt"/>
<line x1="1041.4" y1="1287.3" x2="1053.0" y2="1287.3" stroke="#000" stroke-width="2.30" stroke-linecap="butt"/>
<line x1="1041.4" y1="1552.3" x2="1053.0" y2="1552.3" stroke="#000" stroke-width="2.30" stroke-linecap="butt"/>
<line x1="1047.0" y1="1265.0" x2="1053.0" y2="1265.0" stroke="#000" stroke-width="2.30" stroke-linecap="butt"/>
<line x1="1047.0" y1="1530.0" x2="1053.0" y2="1530.0" stroke="#000" stroke-width="2.30" stroke-linecap="butt"/>
<line x1="1041.4" y1="1242.6" x2="1053.0" y2="1242.6" stroke="#000" stroke-width="2.30" stroke-linecap="butt"/>
<line x1="1041.4" y1="1507.6" x2="1053.0" y2="1507.6" stroke="#000" stroke-width="2.30" stroke-linecap="butt"/>
<line x1="1047.0" y1="1220.3" x2="1053.0" y2="1220.3" stroke="#000" stroke-width="2.30" stroke-linecap="butt"/>
<line x1="1047.0" y1="1485.3" x2="1053.0" y2="1485.3" stroke="#000" stroke-width="2.30" stroke-linecap="butt"/>
<line x1="1041.4" y1="1198.0" x2="1053.0" y2="1198.0" stroke="#000" stroke-width="2.30" stroke-linecap="butt"/>
<line x1="1041.4" y1="1463.0" x2="1053.0" y2="1463.0" stroke="#000" stroke-width="2.30" stroke-linecap="butt"/>
<line x1="1047.0" y1="1175.7" x2="1053.0" y2="1175.7" stroke="#000" stroke-width="2.30" stroke-linecap="butt"/>
<line x1="1047.0" y1="1440.7" x2="1053.0" y2="1440.7" stroke="#000" stroke-width="2.30" stroke-linecap="butt"/>
<line x1="1041.4" y1="1153.4" x2="1053.0" y2="1153.4" stroke="#000" stroke-width="2.30" stroke-linecap="butt"/>
<line x1="1041.4" y1="1418.4" x2="1053.0" y2="1418.4" stroke="#000" stroke-width="2.30" stroke-linecap="butt"/>
<line x1="1053.4" y1="1664.0" x2="1053.4" y2="1675.5" stroke="#000" stroke-width="2.30" stroke-linecap="butt"/>
<line x1="1088.9" y1="1664.0" x2="1088.9" y2="1670.0" stroke="#000" stroke-width="2.30" stroke-linecap="butt"/>
<line x1="1124.5" y1="1664.0" x2="1124.5" y2="1675.5" stroke="#000" stroke-width="2.30" stroke-linecap="butt"/>
<line x1="1160.0" y1="1664.0" x2="1160.0" y2="1670.0" stroke="#000" stroke-width="2.30" stroke-linecap="butt"/>
<line x1="1195.6" y1="1664.0" x2="1195.6" y2="1675.5" stroke="#000" stroke-width="2.30" stroke-linecap="butt"/>
<line x1="1231.2" y1="1664.0" x2="1231.2" y2="1670.0" stroke="#000" stroke-width="2.30" stroke-linecap="butt"/>
<line x1="1266.7" y1="1664.0" x2="1266.7" y2="1675.5" stroke="#000" stroke-width="2.30" stroke-linecap="butt"/>
<line x1="1302.3" y1="1664.0" x2="1302.3" y2="1670.0" stroke="#000" stroke-width="2.30" stroke-linecap="butt"/>
<line x1="1337.8" y1="1664.0" x2="1337.8" y2="1675.5" stroke="#000" stroke-width="2.30" stroke-linecap="butt"/>
<line x1="1373.4" y1="1664.0" x2="1373.4" y2="1670.0" stroke="#000" stroke-width="2.30" stroke-linecap="butt"/>
<line x1="1409.0" y1="1664.0" x2="1409.0" y2="1675.5" stroke="#000" stroke-width="2.30" stroke-linecap="butt"/>
<line x1="1444.5" y1="1664.0" x2="1444.5" y2="1670.0" stroke="#000" stroke-width="2.30" stroke-linecap="butt"/>
<line x1="1480.1" y1="1664.0" x2="1480.1" y2="1675.5" stroke="#000" stroke-width="2.30" stroke-linecap="butt"/>
<line x1="1515.6" y1="1664.0" x2="1515.6" y2="1670.0" stroke="#000" stroke-width="2.30" stroke-linecap="butt"/>
<line x1="1551.2" y1="1664.0" x2="1551.2" y2="1675.5" stroke="#000" stroke-width="2.30" stroke-linecap="butt"/>
<line x1="1586.8" y1="1664.0" x2="1586.8" y2="1670.0" stroke="#000" stroke-width="2.30" stroke-linecap="butt"/>
<line x1="1622.3" y1="1664.0" x2="1622.3" y2="1675.5" stroke="#000" stroke-width="2.30" stroke-linecap="butt"/>
<line x1="1657.9" y1="1664.0" x2="1657.9" y2="1670.0" stroke="#000" stroke-width="2.30" stroke-linecap="butt"/>
<line x1="1693.4" y1="1664.0" x2="1693.4" y2="1675.5" stroke="#000" stroke-width="2.30" stroke-linecap="butt"/>
<line x1="1729.0" y1="1664.0" x2="1729.0" y2="1670.0" stroke="#000" stroke-width="2.30" stroke-linecap="butt"/>
<line x1="1764.6" y1="1664.0" x2="1764.6" y2="1675.5" stroke="#000" stroke-width="2.30" stroke-linecap="butt"/>
<path d="M1132.0,1183.6 L1302.4,1234.0 L1346.6,1220.6 L1381.0,1254.6 L1409.6,1269.4 L1433.0,1252.4 L1454.4,1266.0 L1472.0,1260.0 L1488.6,1260.0 L1503.4,1255.0 L1517.0,1269.4 L1529.4,1263.0 L1540.6,1288.0 L1551.0,1241.0 L1561.4,1255.0 L1571.0,1293.6 L1580.0,1311.6 L1588.0,1317.0 L1596.0,1307.6 L1603.6,1327.6 L1610.6,1293.0 L1617.6,1290.4 L1624.0,1315.0 L1630.6,1283.6 L1636.6,1308.0 L1642.4,1321.6 L1648.0,1304.4 L1653.0,1327.0 L1659.0,1267.0 L1663.6,1287.6 L1668.6,1338.4 L1673.0,1333.0 L1678.0,1374.0 L1682.6,1303.0 L1686.6,1310.4 L1691.0,1289.0 L1695.0,1299.0 L1699.0,1332.0 L1703.0,1278.0 L1707.0,1307.6 L1710.6,1305.6 L1714.2,1315.0 L1718.0,1328.0 L1721.4,1259.6" fill="none" stroke="#000" stroke-opacity="0.22" stroke-width="5.5" stroke-linejoin="round" filter="url(#sh)" transform="translate(0.3,0.8)"/>
<path d="M1132.0,1183.6 L1302.4,1234.0 L1346.6,1220.6 L1381.0,1254.6 L1409.6,1269.4 L1433.0,1252.4 L1454.4,1266.0 L1472.0,1260.0 L1488.6,1260.0 L1503.4,1255.0 L1517.0,1269.4 L1529.4,1263.0 L1540.6,1288.0 L1551.0,1241.0 L1561.4,1255.0 L1571.0,1293.6 L1580.0,1311.6 L1588.0,1317.0 L1596.0,1307.6 L1603.6,1327.6 L1610.6,1293.0 L1617.6,1290.4 L1624.0,1315.0 L1630.6,1283.6 L1636.6,1308.0 L1642.4,1321.6 L1648.0,1304.4 L1653.0,1327.0 L1659.0,1267.0 L1663.6,1287.6 L1668.6,1338.4 L1673.0,1333.0 L1678.0,1374.0 L1682.6,1303.0 L1686.6,1310.4 L1691.0,1289.0 L1695.0,1299.0 L1699.0,1332.0 L1703.0,1278.0 L1707.0,1307.6 L1710.6,1305.6 L1714.2,1315.0 L1718.0,1328.0 L1721.4,1259.6" fill="none" stroke="#fff" stroke-width="3.2" stroke-linejoin="round"/>
<path d="M1132,1198.4 L1723.5,1319.9" fill="none" stroke="#f5111d" stroke-width="2.6" stroke-dasharray="5.2 8.65"/>
<path d="M1132.0,1183.6 L1302.4,1234.0 L1346.6,1220.6 L1381.0,1254.6 L1409.6,1269.4 L1433.0,1252.4 L1454.4,1266.0 L1472.0,1260.0 L1488.6,1260.0 L1503.4,1255.0 L1517.0,1269.4 L1529.4,1263.0 L1540.6,1288.0 L1551.0,1241.0 L1561.4,1255.0 L1571.0,1293.6 L1580.0,1311.6 L1588.0,1317.0 L1596.0,1307.6 L1603.6,1327.6 L1610.6,1293.0 L1617.6,1290.4 L1624.0,1315.0 L1630.6,1283.6 L1636.6,1308.0 L1642.4,1321.6 L1648.0,1304.4 L1653.0,1327.0 L1659.0,1267.0 L1663.6,1287.6 L1668.6,1338.4 L1673.0,1333.0 L1678.0,1374.0 L1682.6,1303.0 L1686.6,1310.4 L1691.0,1289.0 L1695.0,1299.0 L1699.0,1332.0 L1703.0,1278.0 L1707.0,1307.6 L1710.6,1305.6 L1714.2,1315.0 L1718.0,1328.0 L1721.4,1259.6" fill="none" stroke="#000" stroke-width="1.50" stroke-linejoin="miter" stroke-miterlimit="6"/>
<path d="M1132.0,1462.6 L1240.0,1475.6 L1302.4,1489.0 L1346.6,1481.0 L1381.0,1512.6 L1409.6,1525.6 L1433.0,1532.6 L1454.0,1575.6 L1472.0,1527.0 L1488.6,1530.4 L1503.4,1533.6 L1516.6,1524.6 L1529.4,1532.0 L1540.6,1509.0 L1551.0,1496.0 L1561.4,1520.0 L1571.0,1573.6 L1580.0,1541.6 L1588.0,1602.4 L1596.0,1568.0 L1603.6,1553.0 L1610.6,1542.4 L1617.6,1547.4 L1624.0,1543.0 L1630.6,1544.4 L1636.6,1549.6 L1642.4,1536.0 L1648.0,1553.0 L1653.0,1541.0 L1659.0,1529.0 L1663.6,1563.6 L1668.6,1569.0 L1673.0,1628.6 L1678.0,1566.0 L1682.6,1576.4 L1686.6,1567.0 L1691.0,1579.0 L1695.0,1593.0 L1699.0,1577.6 L1703.0,1579.0 L1707.0,1607.0 L1710.6,1573.0 L1714.2,1565.0 L1718.0,1580.4 L1721.4,1572.4" fill="none" stroke="#000" stroke-opacity="0.22" stroke-width="5.5" stroke-linejoin="round" filter="url(#sh)" transform="translate(0.3,0.8)"/>
<path d="M1132.0,1462.6 L1240.0,1475.6 L1302.4,1489.0 L1346.6,1481.0 L1381.0,1512.6 L1409.6,1525.6 L1433.0,1532.6 L1454.0,1575.6 L1472.0,1527.0 L1488.6,1530.4 L1503.4,1533.6 L1516.6,1524.6 L1529.4,1532.0 L1540.6,1509.0 L1551.0,1496.0 L1561.4,1520.0 L1571.0,1573.6 L1580.0,1541.6 L1588.0,1602.4 L1596.0,1568.0 L1603.6,1553.0 L1610.6,1542.4 L1617.6,1547.4 L1624.0,1543.0 L1630.6,1544.4 L1636.6,1549.6 L1642.4,1536.0 L1648.0,1553.0 L1653.0,1541.0 L1659.0,1529.0 L1663.6,1563.6 L1668.6,1569.0 L1673.0,1628.6 L1678.0,1566.0 L1682.6,1576.4 L1686.6,1567.0 L1691.0,1579.0 L1695.0,1593.0 L1699.0,1577.6 L1703.0,1579.0 L1707.0,1607.0 L1710.6,1573.0 L1714.2,1565.0 L1718.0,1580.4 L1721.4,1572.4" fill="none" stroke="#fff" stroke-width="3.2" stroke-linejoin="round"/>
<path d="M1133,1453.6 L1723.5,1586.3" fill="none" stroke="#f5111d" stroke-width="2.6" stroke-dasharray="5.2 8.65"/>
<path d="M1132.0,1462.6 L1240.0,1475.6 L1302.4,1489.0 L1346.6,1481.0 L1381.0,1512.6 L1409.6,1525.6 L1433.0,1532.6 L1454.0,1575.6 L1472.0,1527.0 L1488.6,1530.4 L1503.4,1533.6 L1516.6,1524.6 L1529.4,1532.0 L1540.6,1509.0 L1551.0,1496.0 L1561.4,1520.0 L1571.0,1573.6 L1580.0,1541.6 L1588.0,1602.4 L1596.0,1568.0 L1603.6,1553.0 L1610.6,1542.4 L1617.6,1547.4 L1624.0,1543.0 L1630.6,1544.4 L1636.6,1549.6 L1642.4,1536.0 L1648.0,1553.0 L1653.0,1541.0 L1659.0,1529.0 L1663.6,1563.6 L1668.6,1569.0 L1673.0,1628.6 L1678.0,1566.0 L1682.6,1576.4 L1686.6,1567.0 L1691.0,1579.0 L1695.0,1593.0 L1699.0,1577.6 L1703.0,1579.0 L1707.0,1607.0 L1710.6,1573.0 L1714.2,1565.0 L1718.0,1580.4 L1721.4,1572.4" fill="none" stroke="#000" stroke-width="1.50" stroke-linejoin="miter" stroke-miterlimit="6"/>
<circle cx="1347.0" cy="1222.0" r="8.7" fill="#f7931e" fill-opacity="0.88"/>
<circle cx="1347.0" cy="1222.0" r="9.1" fill="none" stroke="#3a1cff" stroke-width="2.7" stroke-dasharray="2.500 11.794" stroke-dashoffset="1.25" transform="rotate(-82 1347.0 1222.0)"/>
<circle cx="1552.6" cy="1245.6" r="8.7" fill="#b3b3b3" fill-opacity="0.88"/>
<circle cx="1552.6" cy="1245.6" r="9.1" fill="none" stroke="#3a1cff" stroke-width="2.7" stroke-dasharray="2.500 3.218" stroke-dashoffset="1.25" transform="rotate(-100 1552.6 1245.6)"/>
<circle cx="1657.0" cy="1270.0" r="8.7" fill="#b3b3b3" fill-opacity="0.88"/>
<circle cx="1657.0" cy="1270.0" r="9.1" fill="none" stroke="#3a1cff" stroke-width="2.7" stroke-dasharray="2.500 3.218" stroke-dashoffset="1.25" transform="rotate(-100 1657.0 1270.0)"/>
<circle cx="1347.0" cy="1483.4" r="8.7" fill="#f7931e" fill-opacity="0.88"/>
<circle cx="1347.0" cy="1483.4" r="9.1" fill="none" stroke="#3a1cff" stroke-width="2.7" stroke-dasharray="2.500 11.794" stroke-dashoffset="1.25" transform="rotate(-82 1347.0 1483.4)"/>
<circle cx="1552.6" cy="1495.6" r="8.7" fill="#b3b3b3" fill-opacity="0.88"/>
<circle cx="1552.6" cy="1495.6" r="9.1" fill="none" stroke="#3a1cff" stroke-width="2.7" stroke-dasharray="2.500 3.218" stroke-dashoffset="1.25" transform="rotate(-100 1552.6 1495.6)"/>
<circle cx="1658.0" cy="1530.0" r="8.7" fill="#b3b3b3" fill-opacity="0.88"/>
<circle cx="1658.0" cy="1530.0" r="9.1" fill="none" stroke="#3a1cff" stroke-width="2.7" stroke-dasharray="2.500 3.218" stroke-dashoffset="1.25" transform="rotate(-100 1658.0 1530.0)"/>
<line x1="1346.2" y1="1150.0" x2="1346.2" y2="1188.6" stroke="#f7700f" stroke-width="1.50" stroke-linecap="butt"/>
<path d="M1346.2,1205.6 L1339.3,1182.0 L1346.2,1188.6 L1353.1,1182.0 Z" fill="#ff6a00" stroke="#ff6a00" stroke-width="0.5" stroke-linejoin="miter"/>
<line x1="1552.0" y1="1148.4" x2="1552.0" y2="1207.0" stroke="#000" stroke-width="1.60" stroke-linecap="butt"/>
<path d="M1552.0,1224.0 L1545.1,1200.4 L1552.0,1207.0 L1558.9,1200.4 Z" fill="#000" stroke="#000" stroke-width="0.5" stroke-linejoin="miter"/>
<line x1="1660.0" y1="1175.6" x2="1660.0" y2="1234.0" stroke="#000" stroke-width="1.60" stroke-linecap="butt"/>
<path d="M1660.0,1251.0 L1653.1,1227.4 L1660.0,1234.0 L1666.9,1227.4 Z" fill="#000" stroke="#000" stroke-width="0.5" stroke-linejoin="miter"/>
<line x1="1346.2" y1="1406.0" x2="1346.2" y2="1448.6" stroke="#f7700f" stroke-width="1.50" stroke-linecap="butt"/>
<path d="M1346.2,1465.6 L1339.3,1442.0 L1346.2,1448.6 L1353.1,1442.0 Z" fill="#ff6a00" stroke="#ff6a00" stroke-width="0.5" stroke-linejoin="miter"/>
<line x1="1551.0" y1="1414.0" x2="1551.0" y2="1456.0" stroke="#000" stroke-width="1.60" stroke-linecap="butt"/>
<path d="M1551.0,1473.0 L1544.1,1449.4 L1551.0,1456.0 L1557.9,1449.4 Z" fill="#000" stroke="#000" stroke-width="0.5" stroke-linejoin="miter"/>
<line x1="1658.4" y1="1450.4" x2="1658.4" y2="1492.6" stroke="#000" stroke-width="1.60" stroke-linecap="butt"/>
<path d="M1658.4,1509.6 L1651.5,1486.0 L1658.4,1492.6 L1665.3,1486.0 Z" fill="#000" stroke="#000" stroke-width="0.5" stroke-linejoin="miter"/>
</g>
<g id="dlabels" font-family="'Liberation Sans', sans-serif" fill="#000" stroke="#000" stroke-width="0.35" stroke-linejoin="round">
<text transform="translate(1035.00 1388.40) scale(1 1.030)" font-size="32.30px" text-anchor="end">9</text>
<text transform="translate(1035.00 1343.78) scale(1 1.030)" font-size="32.30px" text-anchor="end">10</text>
<text transform="translate(1035.00 1299.16) scale(1 1.030)" font-size="32.30px" text-anchor="end">11</text>
<text transform="translate(1035.00 1254.54) scale(1 1.030)" font-size="32.30px" text-anchor="end">12</text>
<text transform="translate(1035.00 1209.92) scale(1 1.030)" font-size="32.30px" text-anchor="end">13</text>
<text transform="translate(1035.00 1165.30) scale(1 1.030)" font-size="32.30px" text-anchor="end">14</text>
<text transform="translate(1035.00 1653.40) scale(1 1.030)" font-size="32.30px" text-anchor="end">9</text>
<text transform="translate(1035.00 1608.78) scale(1 1.030)" font-size="32.30px" text-anchor="end">10</text>
<text transform="translate(1035.00 1564.16) scale(1 1.030)" font-size="32.30px" text-anchor="end">11</text>
<text transform="translate(1035.00 1519.54) scale(1 1.030)" font-size="32.30px" text-anchor="end">12</text>
<text transform="translate(1035.00 1474.92) scale(1 1.030)" font-size="32.30px" text-anchor="end">13</text>
<text transform="translate(1035.00 1430.30) scale(1 1.030)" font-size="32.30px" text-anchor="end">14</text>
<text transform="translate(1022.70 1708.70) scale(1 1.040)" font-size="33.30px" text-anchor="start">-1,4</text>
<text transform="translate(1096.50 1708.70) scale(1 1.040)" font-size="33.30px" text-anchor="start">-1,2</text>
<text transform="translate(1166.10 1708.70) scale(1 1.040)" font-size="33.30px" text-anchor="start">-1,0</text>
<text transform="translate(1239.50 1708.70) scale(1 1.040)" font-size="33.30px" text-anchor="start">-0,8</text>
<text transform="translate(1309.10 1708.70) scale(1 1.040)" font-size="33.30px" text-anchor="start">-0,6</text>
<text transform="translate(1378.50 1708.70) scale(1 1.040)" font-size="33.30px" text-anchor="start">-0,4</text>
<text transform="translate(1452.10 1708.70) scale(1 1.040)" font-size="33.30px" text-anchor="start">-0,2</text>
<text transform="translate(1541.70 1708.70) scale(1 1.040)" font-size="33.30px" text-anchor="start">0</text>
<text transform="translate(1598.30 1708.70) scale(1 1.040)" font-size="33.30px" text-anchor="start">0,2</text>
<text transform="translate(1671.70 1708.70) scale(1 1.040)" font-size="33.30px" text-anchor="start">0,4</text>
<text transform="translate(1745.30 1708.70) scale(1 1.040)" font-size="33.30px" text-anchor="start">0,6</text>
<text transform="translate(1107.90 1367.60) scale(1 1.010)" font-size="37.10px" text-anchor="start">Sales</text>
<text transform="translate(1097.90 1637.00) scale(1 1.010)" font-size="36.60px" text-anchor="start">Inventory</text>
<text transform="translate(1371.80 1771.00) scale(1 1.010)" font-size="48.40px" text-anchor="start">log(f)</text>
<text transform="translate(972.40 1484.20) rotate(-90) scale(1 1.010)" font-size="47.60px" text-anchor="start">log[P(f)]</text>
<text transform="translate(908.40 1183.50) scale(1 1.010)" font-size="61.30px" text-anchor="start">(d)</text>
</g>
</svg>
</body>
</html>
